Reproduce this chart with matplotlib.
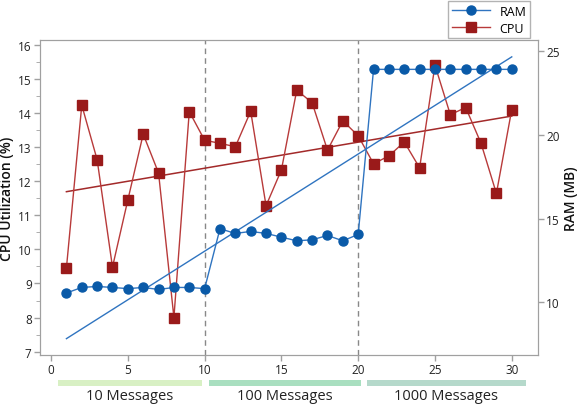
import numpy as np
import matplotlib
matplotlib.use('Agg')
import matplotlib.pyplot as plt
import matplotlib.transforms as mtransforms
from matplotlib.patches import Rectangle

plt.rcParams['font.family'] = ['Open Sans', 'DejaVu Sans']

run = list(range(1, 31))
cpu = [9.45, 14.23, 12.63, 9.48, 11.45, 13.38, 12.24, 8.0, 14.04, 13.2,
       13.11, 13.01, 14.05, 11.28, 12.33, 14.67, 14.30, 12.91, 13.77, 13.33,
       12.51, 12.74, 13.15, 12.39, 15.40, 13.95, 14.16, 13.11, 11.64, 14.10]
ram = [10.56, 10.89, 10.95, 10.89, 10.82, 10.89, 10.77, 10.89, 10.89, 10.82,
       14.39, 14.11, 14.23, 14.11, 13.89, 13.67, 13.73, 13.99, 13.67, 14.05,
       23.89, 23.89, 23.89, 23.89, 23.89, 23.89, 23.89, 23.89, 23.89, 23.89]
groups = ['10 Messages', '100 Messages', '1000 Messages']
group_colors = ['#d8f0c4', '#a9dfc0', '#b5d9cb']
group_spans = [(0.45, 9.8), (10.3, 20.2), (20.55, 30.9)]
splits = [10, 20]

blue = '#0a5aa8'
red = '#9a1a1a'
grey = '#a0a0a0'

fig = plt.figure(figsize=(5.84, 4.06), dpi=100)
ax = fig.add_axes([0.0685, 0.123, 0.8525, 0.776])
ax2 = ax.twinx()

x = np.array(run)
# CPU
ax.plot(x, cpu, color='#b83a3a', lw=1, zorder=3)
ax.plot(x, cpu, ls='none', marker='s', ms=6.5, color=red, zorder=4)
k, b = np.polyfit(x, cpu, 1)
ax.plot([1, 30], [k * 1 + b, k * 30 + b], color='#a32a2a', lw=1.1, zorder=2)

# RAM
ax2.plot(x, ram, color='#2f74c0', lw=1, zorder=3)
ax2.plot(x, ram, ls='none', marker='o', ms=6.5, color=blue, zorder=4)
k2, b2 = np.polyfit(x, ram, 1)
ax2.plot([1, 30], [k2 * 1 + b2, k2 * 30 + b2], color='#2f74c0', lw=1, zorder=2)

for s in splits:
    ax.axvline(s, color='#888888', ls=(0, (4, 3)), lw=1, zorder=1)

ax.set_xlim(-0.72, 31.7)
ax.set_ylim(6.9, 16.14)
ax2.set_ylim(6.86, 25.64)
ax.set_xticks([0, 5, 10, 15, 20, 25, 30])
ax.set_yticks(range(7, 17))
ax.set_yticks(np.arange(7.5, 16, 1), minor=True)
ax2.set_yticks([10, 15, 20, 25])

for a in (ax, ax2):
    for sp in a.spines.values():
        sp.set_color(grey)
    a.tick_params(colors=grey, labelcolor='#222222', labelsize=8.5, length=4, width=1, pad=2)
    a.tick_params(which='minor', colors=grey, length=3)

ax.set_ylabel('CPU Utilization (%)', fontsize=10, color='#111111', labelpad=3,
              fontweight='semibold')
ax2.set_ylabel('RAM (MB)', fontsize=10, color='#111111', labelpad=3,
               fontweight='semibold')

# group bars below axis
trans = mtransforms.blended_transform_factory(ax.transData, ax.transAxes)
for name, col, (x0, x1) in zip(groups, group_colors, group_spans):
    ax.add_patch(Rectangle((x0, -0.097), x1 - x0, 0.017, transform=trans,
                           color=col, clip_on=False, lw=0))
    ax.text((x0 + x1) / 2, -0.105, name, transform=trans, ha='center', va='top',
            fontsize=10.5, color='#222222', clip_on=False)

h1, = ax.plot([], [], color='#2f74c0', marker='o', ms=6.5, mfc=blue, mec=blue, lw=1)
h2, = ax.plot([], [], color='#b83a3a', marker='s', ms=6.5, mfc=red, mec=red, lw=1)
leg = fig.legend([h1, h2], ['RAM', 'CPU'], loc='upper right',
                 bbox_to_anchor=(0.908, 0.995), borderaxespad=0, fontsize=9,
                 frameon=True, fancybox=False, edgecolor=grey, handlelength=3,
                 borderpad=0.3, labelspacing=0.3)

fig.savefig('out.png', dpi=100)
